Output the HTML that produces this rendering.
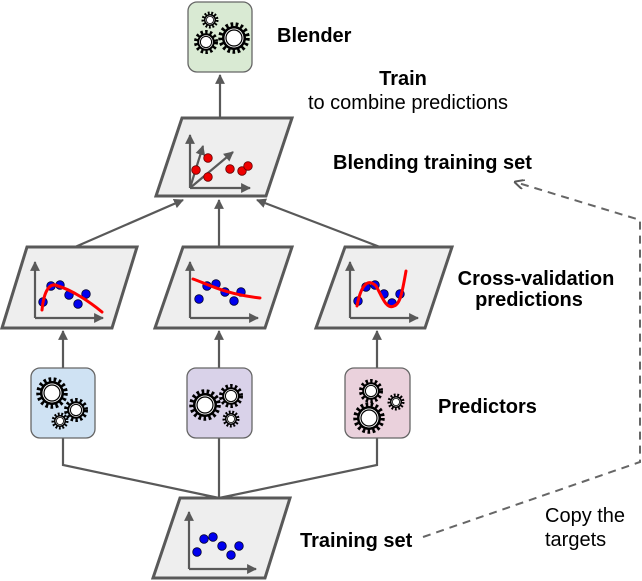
<!DOCTYPE html>
<html><head><meta charset="utf-8"><style>
html,body{margin:0;padding:0;background:#fff}
svg{display:block;font-family:"Liberation Sans",Arial,sans-serif}
</style></head><body>
<svg width="642" height="581" viewBox="0 0 642 581" xmlns="http://www.w3.org/2000/svg">
<defs>
<marker id="ah" viewBox="0 0 10 10" refX="9" refY="5" markerWidth="4.5" markerHeight="4.5" orient="auto"><path d="M0,0 L10,5 L0,10 z" fill="#595959"/></marker>
<marker id="ao" viewBox="0 0 10 10" refX="9" refY="5" markerWidth="5" markerHeight="5" orient="auto"><path d="M0,0 L10,5 L0,10" fill="none" stroke="#595959" stroke-width="2"/></marker>
<g id="gearL"><circle r="13.5" fill="none" stroke="#000" stroke-width="4.5" stroke-dasharray="2.6 2.4"/><circle r="12" fill="#000"/><circle r="9.5" fill="#fff"/><circle r="8" fill="none" stroke="#000" stroke-width="1.2"/></g>
<g id="gearM"><circle r="10" fill="none" stroke="#000" stroke-width="4" stroke-dasharray="2.4 2.2"/><circle r="8.8" fill="#000"/><circle r="6.8" fill="#fff"/><circle r="5.6" fill="none" stroke="#000" stroke-width="1"/></g>
<g id="gearS"><circle r="7" fill="none" stroke="#000" stroke-width="3" stroke-dasharray="1.8 1.6"/><circle r="6" fill="#000"/><circle r="4.5" fill="#fff"/><circle r="3.6" fill="none" stroke="#000" stroke-width="0.8"/></g>
<g id="axes" fill="none" stroke="#595959" stroke-width="2.2"><path d="M0,0 V-56" marker-end="url(#ah)"/><path d="M0,0 H68" marker-end="url(#ah)"/></g>
</defs>

<g stroke="#595959" stroke-width="2.2" fill="none">
<path d="M220,117 V75" marker-end="url(#ah)"/>
<path d="M75,247 L183,200" marker-end="url(#ah)"/>
<path d="M219,247 V200" marker-end="url(#ah)"/>
<path d="M380,247 L257,200" marker-end="url(#ah)"/>
<path d="M63,368 V331" marker-end="url(#ah)"/>
<path d="M219,368 V331" marker-end="url(#ah)"/>
<path d="M377,368 V331" marker-end="url(#ah)"/>
<path d="M63,438 V465 L219,498 M219,438 V498 M377,438 V465 L219,498"/>
</g>
<path d="M423,537 L640,462 V220 L515,182" fill="none" stroke="#666" stroke-width="2" stroke-dasharray="8 6" marker-end="url(#ao)"/>

<rect x="188" y="2" width="64" height="70" rx="9" fill="#d9ead3" stroke="#666" stroke-width="1.3"/>
<use href="#gearS" x="210" y="20"/><use href="#gearM" x="206" y="42"/><use href="#gearL" x="234" y="38"/>

<polygon points="182,118 292,118 266,196 156,196" fill="#eeeeee" stroke="#595959" stroke-width="3"/>
<g fill="none" stroke="#595959" stroke-width="2.2"><path d="M190,188 V135" marker-end="url(#ah)"/><path d="M190,188 H250" marker-end="url(#ah)"/><path d="M190,188 L203,146" marker-end="url(#ah)"/><path d="M190,188 L233,152" marker-end="url(#ah)"/></g>
<g fill="#e00" stroke="#600" stroke-width="0.8"><circle cx="196" cy="170" r="4.3"/><circle cx="208" cy="158" r="4.3"/><circle cx="208" cy="177" r="4.3"/><circle cx="230" cy="169" r="4.3"/><circle cx="242" cy="171" r="4.3"/><circle cx="248" cy="166" r="4.3"/></g>

<polygon points="27,247 137,247 112,328 2,328" fill="#eeeeee" stroke="#595959" stroke-width="3"/>
<polygon points="183,247 292,247 265,328 155,328" fill="#eeeeee" stroke="#595959" stroke-width="3"/>
<polygon points="345,247 452,247 425,328 316,328" fill="#eeeeee" stroke="#595959" stroke-width="3"/>
<use href="#axes" x="35" y="318"/><use href="#axes" x="190" y="318"/><use href="#axes" x="350" y="318"/>
<g fill="#0000ee" stroke="#003" stroke-width="0.8">
<circle cx="43" cy="302" r="4.3"/><circle cx="51" cy="286" r="4.3"/><circle cx="60" cy="285" r="4.3"/><circle cx="69" cy="295" r="4.3"/><circle cx="78" cy="304" r="4.3"/><circle cx="86" cy="294" r="4.3"/>
<circle cx="199" cy="299" r="4.3"/><circle cx="207" cy="286" r="4.3"/><circle cx="216" cy="284" r="4.3"/><circle cx="225" cy="292" r="4.3"/><circle cx="234" cy="301" r="4.3"/><circle cx="241" cy="292" r="4.3"/>
<circle cx="358" cy="301" r="4.3"/><circle cx="366" cy="287" r="4.3"/><circle cx="375" cy="285" r="4.3"/><circle cx="384" cy="294" r="4.3"/><circle cx="392" cy="303" r="4.3"/><circle cx="400" cy="294" r="4.3"/>
</g>
<g fill="none" stroke="#f00" stroke-width="3" stroke-linecap="round">
<path d="M42,310 C44,290 50,282 58,286 C72,290 90,302 102,312"/>
<path d="M193,279 C210,285 225,294 260,298"/>
<path d="M357,306 C360,290 366,276 376,286 C382,296 386,310 394,306 C400,304 402,294 406,271"/>
</g>

<rect x="31" y="368" width="64" height="70" rx="9" fill="#cfe2f3" stroke="#666" stroke-width="1.3"/>
<use href="#gearL" x="52" y="393"/><use href="#gearM" x="76" y="410"/><use href="#gearS" x="60" y="421"/>
<rect x="187" y="368" width="65" height="70" rx="9" fill="#d9d2e9" stroke="#666" stroke-width="1.3"/>
<use href="#gearL" x="205" y="405"/><use href="#gearM" x="231" y="396"/><use href="#gearS" x="231" y="419"/>
<rect x="345" y="368" width="65" height="70" rx="9" fill="#ead1dc" stroke="#666" stroke-width="1.3"/>
<use href="#gearM" x="371" y="391"/><use href="#gearS" x="396" y="402"/><use href="#gearL" x="369" y="418"/>

<polygon points="180,498 290,498 265,578 153,578" fill="#eeeeee" stroke="#595959" stroke-width="3"/>
<g fill="none" stroke="#595959" stroke-width="2.2"><path d="M189,569 V512" marker-end="url(#ah)"/><path d="M189,569 H256" marker-end="url(#ah)"/></g>
<g fill="#0000ee" stroke="#003" stroke-width="0.8"><circle cx="197" cy="552" r="4.3"/><circle cx="204" cy="539" r="4.3"/><circle cx="213" cy="537" r="4.3"/><circle cx="222" cy="546" r="4.3"/><circle cx="231" cy="555" r="4.3"/><circle cx="239" cy="546" r="4.3"/></g>

<g font-size="20" font-weight="bold" fill="#000">
<text x="277" y="42">Blender</text>
<text x="403" y="85" text-anchor="middle">Train</text>
<text x="333" y="169">Blending training set</text>
<text x="536" y="285" text-anchor="middle">Cross-validation</text>
<text x="529" y="306" text-anchor="middle">predictions</text>
<text x="438" y="413">Predictors</text>
<text x="300" y="547">Training set</text>
</g>
<g font-size="20" fill="#000">
<text x="408" y="109" text-anchor="middle">to combine predictions</text>
<text x="545" y="522">Copy the</text>
<text x="545" y="546">targets</text>
</g>
</svg>
</body></html>
